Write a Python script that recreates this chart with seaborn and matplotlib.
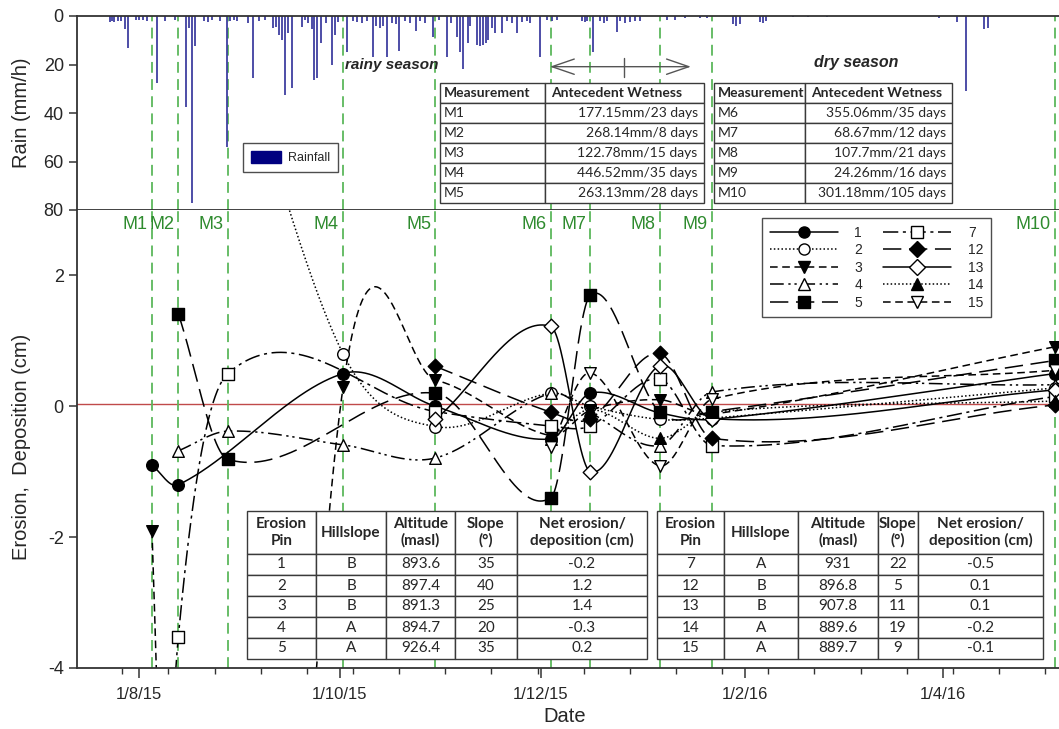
import numpy as np
import pandas as pd
import matplotlib
matplotlib.use("Agg")
import matplotlib.pyplot as plt
import matplotlib.dates as mdates
from matplotlib.lines import Line2D
from matplotlib.patches import Patch
from matplotlib.ticker import FuncFormatter, FixedLocator
import seaborn as sns

sns.set_style("ticks")
plt.rcParams["font.family"] = ["Liberation Sans", "DejaVu Sans"]
plt.rcParams["axes.unicode_minus"] = False

# ---------------- data ----------------
base_date = "2015-08-01"
rain_day = [-8.8, -8.2, -7.6, -6.4, -5.5, -4.2, -3.3, -0.9, 0.0, 1.2,
            2.4, 5.5, 7.9, 10.9, 14.3, 15.2, 16.1, 17.0, 19.7, 20.9,
            22.2, 24.6, 26.7, 27.6, 28.8, 29.7, 33.1, 34.6, 36.4, 38.2,
            40.7, 41.6, 42.5, 43.4, 44.3, 45.2, 46.4, 49.5, 50.4, 51.3,
            52.5, 53.1, 54.0, 55.2, 56.8, 58.6, 59.5, 60.4, 63.1, 64.9,
            66.2, 67.7, 69.2, 71.0, 71.9, 73.1, 74.1, 75.3, 76.8, 78.0,
            78.9, 80.7, 82.2, 84.1, 85.3, 86.8, 89.2, 91.0, 93.5, 94.7,
            96.5, 97.4, 98.3, 99.8, 100.5, 102.6, 103.5, 104.4, 105.3, 105.9,
            107.1, 108.0, 110.2, 111.7, 113.2, 114.7, 116.2, 117.8, 118.7, 121.7,
            123.8, 125.3, 126.9, 134.4, 135.4, 136.0, 137.8, 139.9, 141.1, 142.0,
            145.0, 145.9, 147.5, 149.0, 150.5, 152.0, 160.2, 162.6, 165.7, 170.2,
            172.3, 180.2, 181.2, 182.4, 188.5, 189.4, 190.3, 198.5, 203.0, 208.8,
            242.8, 248.3, 251.0, 256.4, 257.7]
rain_mm = [2.3, 2.0, 2.5, 2.0, 2.2, 5.5, 13.3, 1.5, 1.8, 1.5,
           2.0, 27.5, 2.0, 1.8, 37.4, 5.0, 77.0, 12.4, 2.0, 2.5,
           1.5, 2.0, 54.0, 2.0, 1.5, 2.0, 2.8, 25.7, 2.0, 1.5,
           5.0, 4.5, 8.0, 9.7, 32.6, 7.0, 29.6, 4.5, 1.5, 3.0,
           5.5, 26.4, 25.7, 11.0, 3.0, 20.0, 8.0, 2.5, 15.0, 2.0,
           2.5, 3.0, 2.0, 17.0, 4.0, 5.0, 4.0, 16.8, 3.0, 3.5,
           14.3, 2.0, 3.0, 6.0, 2.0, 3.0, 8.5, 1.5, 17.0, 3.0,
           8.5, 15.0, 22.0, 11.0, 4.0, 12.0, 12.5, 12.0, 11.0, 10.0,
           5.0, 7.0, 7.0, 2.0, 3.0, 7.0, 2.5, 2.0, 3.0, 17.0,
           1.5, 2.0, 1.5, 2.0, 2.5, 2.0, 15.0, 2.0, 3.0, 2.0,
           6.5, 2.0, 3.0, 2.5, 2.0, 2.0, 1.5, 1.5, 1.0, 1.0,
           1.0, 3.5, 4.0, 3.5, 2.5, 3.0, 2.0, 0.5, 0.5, 0.5,
           1.0, 2.5, 31.0, 5.5, 5.0]

meas_names = ["M1", "M2", "M3", "M4", "M5", "M6", "M7", "M8", "M9", "M10"]
meas_dates = ["2015-08-05", "2015-08-13", "2015-08-28", "2015-10-02", "2015-10-30",
              "2015-12-04", "2015-12-16", "2016-01-06", "2016-01-22", "2016-05-05"]

nan = np.nan
pin_1 = [-0.9, -1.2, nan, 0.5, 0.0, -0.5, 0.2, -0.1, -0.2, 0.5]
pin_2 = [nan, nan, 6.0, 0.8, -0.31, 0.2, 0.0, -0.2, -0.18, 0.28]
pin_3 = [-1.9, -14.0, -22.0, 0.3, 0.4, -0.45, -0.06, 0.1, -0.12, 0.91]
pin_4 = [nan, -0.68, -0.38, -0.59, -0.79, 0.2, -0.1, -0.6, 0.22, 0.33]
pin_5 = [nan, 1.41, -0.81, nan, 0.2, -1.4, 1.7, -0.09, -0.08, 0.7]
pin_7 = [-12.0, -3.52, 0.5, nan, -0.08, -0.3, -0.3, 0.42, -0.6, 0.15]
pin_12 = [nan, nan, nan, nan, 0.61, -0.09, -0.19, 0.81, -0.49, 0.02]
pin_13 = [nan, nan, nan, nan, -0.2, 1.22, -1.0, 0.62, -0.19, 0.25]
pin_14 = [nan, nan, nan, nan, nan, -0.5, -0.05, -0.49, -0.09, 0.08]
pin_15 = [nan, nan, nan, nan, nan, -0.62, 0.51, -0.91, 0.11, 0.55]

pin_labels = ["1", "2", "3", "4", "5", "7", "12", "13", "14", "15"]
pin_values = [pin_1, pin_2, pin_3, pin_4, pin_5, pin_7, pin_12, pin_13, pin_14, pin_15]

wet_head = ["Measurement", "Antecedent Wetness"]
wet_rows_a = [["M1", "177.15mm/23 days"], ["M2", "268.14mm/8 days"], ["M3", "122.78mm/15 days"],
              ["M4", "446.52mm/35 days"], ["M5", "263.13mm/28 days"]]
wet_rows_b = [["M6", "355.06mm/35 days"], ["M7", "68.67mm/12 days"], ["M8", "107.7mm/21 days"],
              ["M9", "24.26mm/16 days"], ["M10", "301.18mm/105 days"]]
pin_head = ["Erosion\nPin", "Hillslope", "Altitude\n(masl)", "Slope\n(°)", "Net erosion/\ndeposition (cm)"]
pin_rows_a = [["1", "B", "893.6", "35", "-0.2"], ["2", "B", "897.4", "40", "1.2"],
              ["3", "B", "891.3", "25", "1.4"], ["4", "A", "894.7", "20", "-0.3"],
              ["5", "A", "926.4", "35", "0.2"]]
pin_rows_b = [["7", "A", "931", "22", "-0.5"], ["12", "B", "896.8", "5", "0.1"],
              ["13", "B", "907.8", "11", "0.1"], ["14", "A", "889.6", "19", "-0.2"],
              ["15", "A", "889.7", "9", "-0.1"]]

# ---------------- styles ----------------
styles = {
    "1": ("-", "o", "black"), "2": ((0, (1, 1.5)), "o", "white"),
    "3": ((0, (5, 3)), "v", "black"), "4": ((0, (9, 3, 1.5, 2.5, 1.5, 3)), "^", "white"),
    "5": ((0, (12, 5)), "s", "black"), "7": ((0, (10, 3, 2, 3)), "s", "white"),
    "12": ((0, (12, 5)), "D", "black"), "13": ("-", "D", "white"),
    "14": ((0, (1, 1.5)), "^", "black"), "15": ((0, (5, 3)), "v", "white"),
}
GREEN_LINE = "#5cb85c"
GREEN_TEXT = "#2e8b2e"
RAIN_C = "#3f3fa0"

W, H = 1059, 729
fig = plt.figure(figsize=(W / 100, H / 100), dpi=100)


def rect(x0, y0, x1, y1):
    return [x0 / W, 1 - y1 / H, (x1 - x0) / W, (y1 - y0) / H]


ax_r = fig.add_axes(rect(77, 16, 1059, 210))
ax_e = fig.add_axes(rect(77, 210, 1059, 668), sharex=ax_r)

base = mdates.date2num(pd.Timestamp(base_date))
rain_x = base + np.array(rain_day)
mx = mdates.date2num(pd.to_datetime(meas_dates))


def smooth_curve(x, y, xs):
    """Cubic Hermite curve through the points (Catmull-Rom tangents)."""
    x = np.asarray(x, float); y = np.asarray(y, float)
    n = len(x)
    m = np.empty(n)
    m[0] = (y[1] - y[0]) / (x[1] - x[0])
    m[-1] = (y[-1] - y[-2]) / (x[-1] - x[-2])
    for i in range(1, n - 1):
        m[i] = (y[i + 1] - y[i - 1]) / (x[i + 1] - x[i - 1])
    idx = np.clip(np.searchsorted(x, xs) - 1, 0, n - 2)
    h = x[idx + 1] - x[idx]
    t = (xs - x[idx]) / h
    h00 = 2 * t ** 3 - 3 * t ** 2 + 1
    h10 = t ** 3 - 2 * t ** 2 + t
    h01 = -2 * t ** 3 + 3 * t ** 2
    h11 = t ** 3 - t ** 2
    return h00 * y[idx] + h10 * h * m[idx] + h01 * y[idx + 1] + h11 * h * m[idx + 1]


# ---------------- rain panel ----------------
ax_r.vlines(rain_x, 0, rain_mm, color=RAIN_C, lw=1.3, zorder=2)
ax_r.set_ylim(80, 0)
ax_r.set_yticks([0, 20, 40, 60, 80])
ax_r.set_ylabel("Rain (mm/h)", fontsize=14.5)
ax_r.yaxis.set_label_coords(-0.047, 0.5)
ax_r.tick_params(axis="x", length=0, labelbottom=False)
ax_r.tick_params(axis="y", labelsize=13, length=6, width=1.1, color="#333")
for s in ["top", "left", "bottom"]:
    ax_r.spines[s].set_visible(True)
    ax_r.spines[s].set_color("#333")
    ax_r.spines[s].set_linewidth(1.3)
ax_r.spines["right"].set_visible(False)
for xv in mx:
    ax_r.axvline(xv, color=GREEN_LINE, lw=1.3, ls=(0, (6, 3.5)), zorder=1)
ax_r.legend(handles=[Patch(facecolor="#000080", edgecolor="#000080", label="Rainfall")],
            loc="upper left", bbox_to_anchor=(0.163, 0.376), fontsize=9, frameon=True,
            fancybox=False, edgecolor="#222", handlelength=2.4, handleheight=1.1,
            borderpad=0.6, handletextpad=0.6).get_frame().set_linewidth(1.0)
ax_r.text(base + 62.5, 20, "rainy season", fontsize=11, fontweight="bold", style="italic",
          va="center", ha="left")
ax_r.text(base + 205, 19, "dry season", fontsize=11.5, fontweight="bold", style="italic",
          va="center", ha="left")
left_a = base + (550 - 139) / 3.295
right_a = base + (691 - 139) / 3.295
mid_a = base + (624 - 139) / 3.295
ax_r.annotate("", xy=(right_a, 20.9), xytext=(left_a, 20.9),
              arrowprops=dict(arrowstyle="<->,head_length=1.6,head_width=0.55", color="#555",
                              lw=1.0, mutation_scale=10, shrinkA=0, shrinkB=0))
ax_r.plot([mid_a, mid_a], [17.3, 25.2], color="#555", lw=1.0)

# ---------------- erosion panel ----------------
ax_e.axhline(0.04, color="#c04a4a", lw=1.0, zorder=1)
for xv, nm in zip(mx, meas_names):
    ax_e.axvline(xv, color=GREEN_LINE, lw=1.3, ls=(0, (6, 3.5)), zorder=1)
    ax_e.annotate(nm, xy=(xv, 2.78), xytext=(-3, 0), textcoords="offset points",
                  ha="right", va="center", color=GREEN_TEXT, fontsize=13)

handles = []
for lab, vals in zip(pin_labels, pin_values):
    ls, mk, fc = styles[lab]
    v = np.array(vals, float)
    ok = ~np.isnan(v)
    xs = np.linspace(mx[ok][0], mx[ok][-1], 1500)
    ys = smooth_curve(mx[ok], v[ok], xs)
    sns.lineplot(x=xs, y=ys, ax=ax_e, color="black", lw=1.1, linestyle=ls,
                 estimator=None, sort=False, zorder=2)
    handles.append(Line2D([0], [0], color="black", lw=1.1, ls=ls, marker=mk,
                          markerfacecolor=fc, markeredgecolor="black", markersize=8,
                          markeredgewidth=1.0, label=lab))

for lab, vals in zip(pin_labels, pin_values):
    ls, mk, fc = styles[lab]
    v = np.array(vals, float)
    ok = ~np.isnan(v)
    size = 55 if mk == "D" else 70
    sns.scatterplot(x=mx[ok], y=v[ok], ax=ax_e, marker=mk, s=size, color=fc,
                    edgecolor="black", linewidth=1.0, zorder=4, legend=False)

ax_e.set_ylim(-4, 3)
ax_e.set_yticks([-4, -2, 0, 2])
ax_e.set_xlim(mdates.date2num(pd.Timestamp("2015-07-13 06:00")),
              mdates.date2num(pd.Timestamp("2016-05-06 05:00")))
ax_e.xaxis.set_major_locator(mdates.MonthLocator(bymonth=[2, 4, 8, 10, 12]))
minor = mdates.date2num(pd.Timestamp("2015-07-27")) + np.arange(0, 290, 14)
ax_e.xaxis.set_minor_locator(FixedLocator(minor))
ax_e.xaxis.set_major_formatter(FuncFormatter(
    lambda v, p: (lambda d: f"{d.day}/{d.month}/{d.strftime('%y')}")(mdates.num2date(v))))
ax_e.tick_params(axis="x", which="major", labelsize=12, length=7, width=1.1, pad=7, color="#333")
ax_e.tick_params(axis="x", which="minor", length=4, width=1.0, color="#333")
ax_e.tick_params(axis="y", labelsize=13, length=6, width=1.1, color="#333")
ax_e.set_ylabel("Erosion,  Deposition (cm)", fontsize=14.5)
ax_e.yaxis.set_label_coords(-0.047, 0.483)
ax_e.set_xlabel("Date", fontsize=14.5)
ax_e.xaxis.set_label_coords(0.497, -0.085)
for s in ["left", "bottom"]:
    ax_e.spines[s].set_color("#333")
    ax_e.spines[s].set_linewidth(1.3)
ax_e.spines["top"].set_visible(False)
ax_e.spines["right"].set_visible(False)

leg = ax_e.legend(handles=handles, ncol=2, loc="upper left", bbox_to_anchor=(0.6976, 0.9825),
                  fontsize=10, frameon=True, fancybox=False, edgecolor="#222",
                  handlelength=4.9, handletextpad=1.2, labelspacing=0.25, columnspacing=1.5,
                  borderpad=0.55, borderaxespad=0)
leg.get_frame().set_linewidth(1.0)
leg.set_zorder(6)


# ---------------- tables ----------------
def draw_table(px, header, rows, col_w, head_h, row_h, aligns, head_aligns, fs):
    tax = fig.add_axes(rect(*px))
    tax.axis("off")
    tax.set_zorder(10)
    tb = tax.table(cellText=rows, colLabels=header, colWidths=col_w, bbox=[0, 0, 1, 1],
                   cellLoc="center")
    tb.auto_set_font_size(False)
    tb.set_fontsize(fs)
    for (r, c), cell in tb.get_celld().items():
        cell.set_edgecolor("#3a3a3a")
        cell.set_linewidth(1.0)
        cell.set_facecolor("white")
        cell.set_height(head_h if r == 0 else row_h)
        cell.PAD = 0.04
        t = cell.get_text()
        t.set_fontfamily(["Lato", "DejaVu Sans"])
        t.set_ha(head_aligns[c] if r == 0 else aligns[c])
        t.set_multialignment("center")
        if r == 0:
            t.set_fontweight("bold")
    return tb


draw_table((440, 83, 704, 203), wet_head, wet_rows_a, [105, 159], 20, 20,
           ["left", "right"], ["left", "left"], 10)
draw_table((714, 83, 952, 203), wet_head, wet_rows_b, [91, 147], 20, 20,
           ["left", "right"], ["left", "left"], 10)
draw_table((247, 511, 647, 659), pin_head, pin_rows_a, [69, 70, 69, 62, 130], 43, 21,
           ["center"] * 5, ["center"] * 5, 11)
draw_table((657, 511, 1043, 659), pin_head, pin_rows_b, [67, 74, 80, 40, 125], 43, 21,
           ["center"] * 5, ["center"] * 5, 11)

fig.savefig("out.png", dpi=100)
